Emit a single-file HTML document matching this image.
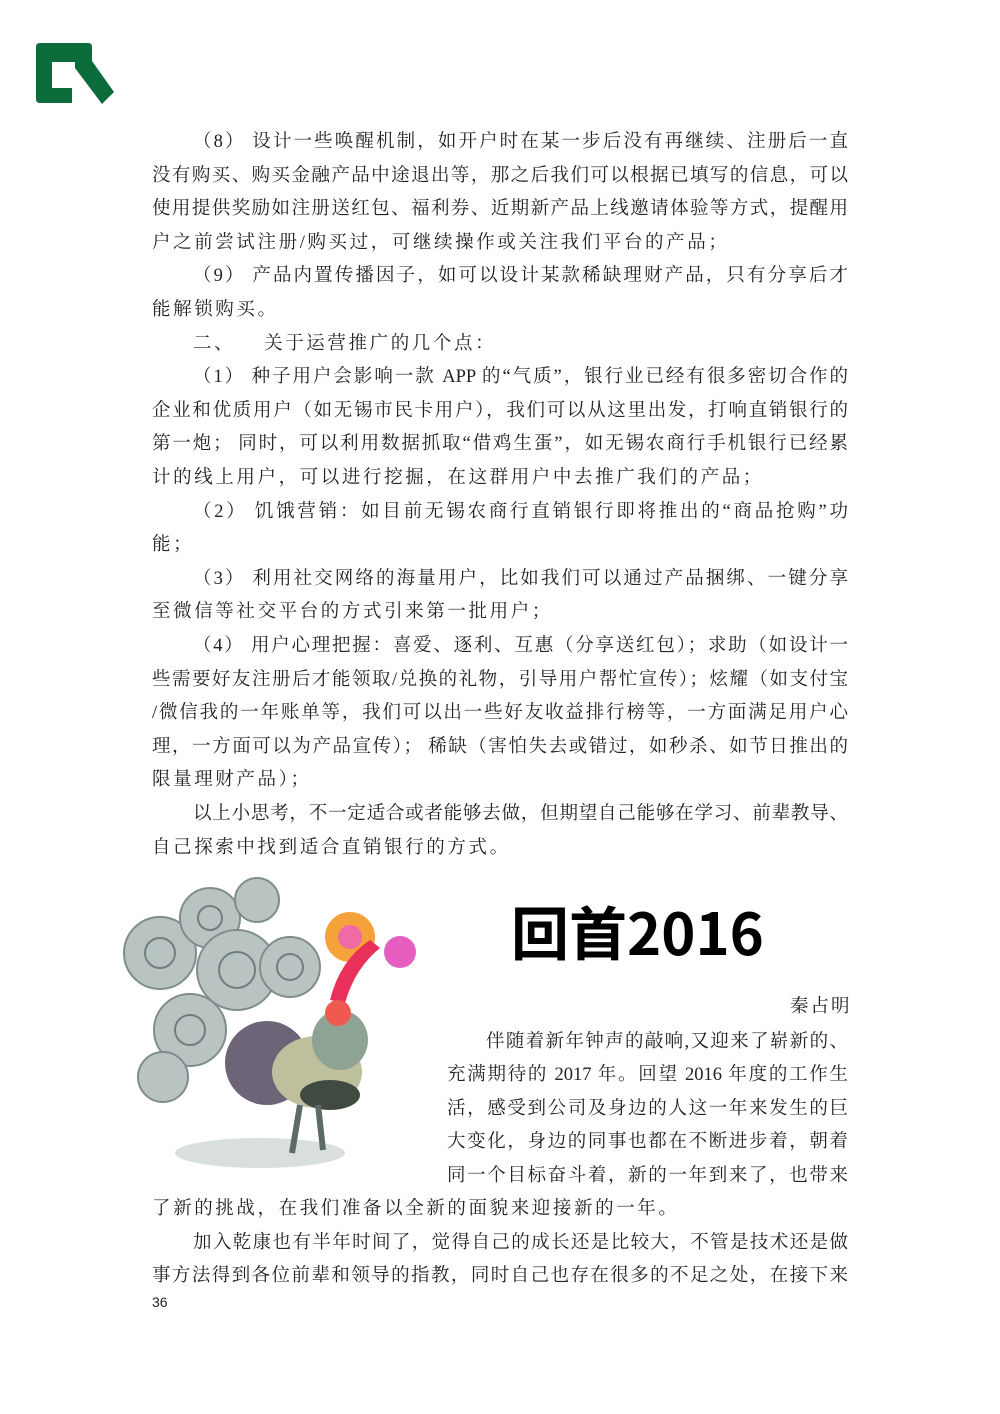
<!DOCTYPE html>
<html><head><meta charset="utf-8"><style>
body{margin:0;background:#fff}
#page{position:relative;width:1000px;height:1414px;background:#fff;overflow:hidden;font-family:"Liberation Serif","Noto Serif CJK SC","Noto Sans CJK SC",serif;color:#222}
.l{position:absolute;left:152px;width:696px;height:28px;line-height:28px;font-size:18.5px;white-space:nowrap;text-align:justify;text-align-last:justify;transform:translateY(2px)}
.l.s{text-align-last:left}
.n{left:447px;width:401px}
</style></head><body>
<div id="page">
<svg style="position:absolute;left:0;top:0" width="130" height="120">
<path d="M36 47 q0-4 4-4 h48 q4 0 4 4 v14 l22 31 l-12 12 l-27-36 v-6 h-23 v26 h20 v15 h-32 q-4 0-4-4z" fill="#0b6b3a"/>
</svg>
<div class="l" style="top:126px;padding-left:41px;width:655px">（8） 设计一些唤醒机制，如开户时在某一步后没有再继续、注册后一直</div>
<div class="l" style="top:160px">没有购买、购买金融产品中途退出等，那之后我们可以根据已填写的信息，可以</div>
<div class="l" style="top:193px">使用提供奖励如注册送红包、福利券、近期新产品上线邀请体验等方式，提醒用</div>
<div class="l s" style="top:227px;letter-spacing:2.6px">户之前尝试注册/购买过，可继续操作或关注我们平台的产品；</div>
<div class="l" style="top:260px;padding-left:41px;width:655px">（9） 产品内置传播因子，如可以设计某款稀缺理财产品，只有分享后才</div>
<div class="l s" style="top:294px;letter-spacing:2.6px">能解锁购买。</div>
<div class="l s" style="top:328px;padding-left:41px;letter-spacing:2.6px">二、&nbsp;&nbsp;&nbsp;&nbsp;关于运营推广的几个点：</div>
<div class="l" style="top:361px;padding-left:41px;width:655px">（1） 种子用户会影响一款 APP 的“气质”，银行业已经有很多密切合作的</div>
<div class="l" style="top:395px">企业和优质用户（如无锡市民卡用户），我们可以从这里出发，打响直销银行的</div>
<div class="l" style="top:428px">第一炮； 同时，可以利用数据抓取“借鸡生蛋”，如无锡农商行手机银行已经累</div>
<div class="l s" style="top:462px;letter-spacing:2.6px">计的线上用户，可以进行挖掘，在这群用户中去推广我们的产品；</div>
<div class="l" style="top:496px;padding-left:41px;width:655px">（2） 饥饿营销：如目前无锡农商行直销银行即将推出的“商品抢购”功</div>
<div class="l s" style="top:529px;letter-spacing:2.6px">能；</div>
<div class="l" style="top:563px;padding-left:41px;width:655px">（3） 利用社交网络的海量用户，比如我们可以通过产品捆绑、一键分享</div>
<div class="l s" style="top:596px;letter-spacing:2.6px">至微信等社交平台的方式引来第一批用户；</div>
<div class="l" style="top:630px;padding-left:41px;width:655px">（4） 用户心理把握：喜爱、逐利、互惠（分享送红包）；求助（如设计一</div>
<div class="l" style="top:664px">些需要好友注册后才能领取/兑换的礼物，引导用户帮忙宣传）；炫耀（如支付宝</div>
<div class="l" style="top:697px">/微信我的一年账单等，我们可以出一些好友收益排行榜等，一方面满足用户心</div>
<div class="l" style="top:731px">理，一方面可以为产品宣传）； 稀缺（害怕失去或错过，如秒杀、如节日推出的</div>
<div class="l s" style="top:764px;letter-spacing:2.6px">限量理财产品）；</div>
<div class="l" style="top:798px;padding-left:41px;width:655px">以上小思考，不一定适合或者能够去做，但期望自己能够在学习、前辈教导、</div>
<div class="l s" style="top:832px;letter-spacing:2.6px">自己探索中找到适合直销银行的方式。</div>

<svg style="position:absolute;left:0;top:0" width="1000" height="1414">
<ellipse cx="260" cy="1153" rx="85" ry="15" fill="#c9d2cc" opacity=".7"/>
<g fill="#b9c3c2" stroke="#7f8d8c" stroke-width="2">
<circle cx="160" cy="953" r="36"/><circle cx="210" cy="918" r="30"/><circle cx="257" cy="900" r="22"/>
<circle cx="237" cy="970" r="40"/><circle cx="290" cy="967" r="30"/><circle cx="190" cy="1030" r="36"/>
<circle cx="163" cy="1077" r="25"/></g>
<g fill="none" stroke="#6f7f7e" stroke-width="2">
<circle cx="160" cy="953" r="15"/><circle cx="237" cy="970" r="18"/><circle cx="290" cy="967" r="13"/><circle cx="190" cy="1030" r="15"/><circle cx="210" cy="918" r="12"/></g>
<circle cx="350" cy="937" r="25" fill="#f6a23a"/><circle cx="350" cy="937" r="12" fill="#f06aa8"/>
<circle cx="400" cy="952" r="16" fill="#e55ec0"/>
<path d="M330 1000 q10-40 40-60 l10 8 q-25 20-35 55z" fill="#e8305a"/>
<circle cx="267" cy="1063" r="42" fill="#6e6478"/>
<ellipse cx="317" cy="1072" rx="45" ry="36" fill="#bdbf9d"/>
<ellipse cx="340" cy="1040" rx="28" ry="30" fill="#8fa394"/>
<ellipse cx="330" cy="1095" rx="30" ry="15" fill="#404a40"/>
<circle cx="338" cy="1013" r="13" fill="#ee5a50"/>
<path d="M300 1105 l-8 48 M318 1105 l5 45" stroke="#5c6b66" stroke-width="6"/>
</svg>
<div style="position:absolute;left:511px;top:899px;font-size:58px;line-height:62px;font-weight:bold;font-family:'Noto Sans CJK SC','Liberation Sans',sans-serif;color:#000;letter-spacing:0px">回首2016</div>
<div class="l s" style="top:991px;left:790px;width:60px;letter-spacing:2px">秦占明</div>
<div class="l n" style="top:1026px;padding-left:39px;width:362px">伴随着新年钟声的敲响,又迎来了崭新的、</div>
<div class="l n" style="top:1059px">充满期待的 2017 年。回望 2016 年度的工作生</div>
<div class="l n" style="top:1093px">活，感受到公司及身边的人这一年来发生的巨</div>
<div class="l n" style="top:1126px">大变化，身边的同事也都在不断进步着，朝着</div>
<div class="l n" style="top:1160px">同一个目标奋斗着，新的一年到来了，也带来</div>
<div class="l s" style="top:1193px;letter-spacing:2.6px">了新的挑战，在我们准备以全新的面貌来迎接新的一年。</div>
<div class="l" style="top:1227px;padding-left:41px;width:655px">加入乾康也有半年时间了，觉得自己的成长还是比较大，不管是技术还是做</div>
<div class="l" style="top:1260px">事方法得到各位前辈和领导的指教，同时自己也存在很多的不足之处，在接下来</div>
<div style="position:absolute;left:152px;top:1294px;font-size:14px;font-family:'Liberation Sans',sans-serif">36</div>
</div>
</body></html>
